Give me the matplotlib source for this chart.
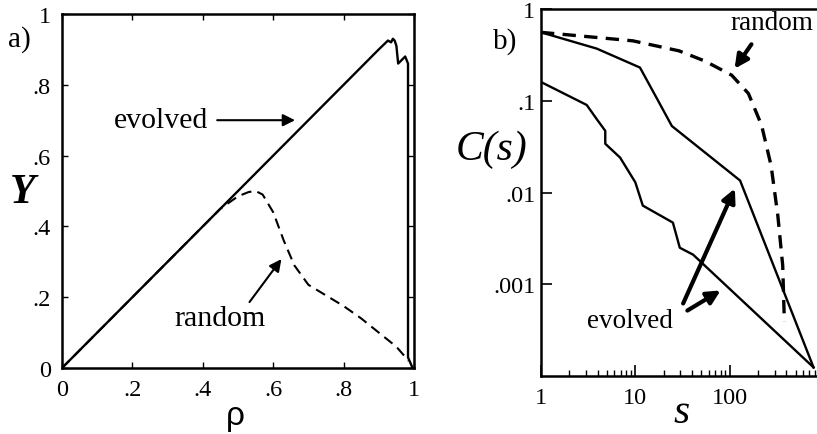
import matplotlib
matplotlib.use("Agg")
import matplotlib.pyplot as plt
import numpy as np

# ---- panel a data ----
rho_evolved = [0.0, 0.50, 0.90, 0.926, 0.935, 0.94, 0.945, 0.95, 0.955, 0.965, 0.975, 0.983, 0.983, 0.996]
Y_evolved   = [0.0, 0.50, 0.90, 0.925, 0.92, 0.93, 0.925, 0.91, 0.86, 0.87, 0.88, 0.86, 0.03, 0.0]
rho_random = [0.0, 0.45, 0.50, 0.53, 0.55, 0.57, 0.60, 0.63, 0.66, 0.70, 0.75, 0.80, 0.85, 0.90, 0.95, 0.985]
Y_random   = [0.0, 0.45, 0.485, 0.497, 0.50, 0.49, 0.44, 0.36, 0.29, 0.235, 0.205, 0.175, 0.14, 0.10, 0.06, 0.02]

# ---- panel b data ----
s_random = [1, 9.4, 29, 55, 105, 158, 218, 275, 324, 365, 380]
C_random = [0.557, 0.45, 0.35, 0.27, 0.19, 0.12, 0.054, 0.0196, 0.0056, 0.0016, 0.00039]
s_evo1 = [1, 3.9, 11.2, 17, 24.4, 129, 775]
C_evo1 = [0.557, 0.37, 0.23, 0.105, 0.053, 0.0135, 0.000124]
s_evo2 = [1, 3.05, 3.9, 4.8, 4.8, 6.9, 10, 12, 25, 29.6, 41, 775]
C_evo2 = [0.16, 0.09, 0.063, 0.047, 0.034, 0.024, 0.0129, 0.0072, 0.0047, 0.0025, 0.0021, 0.000124]

xticks_a = [0, 0.2, 0.4, 0.6, 0.8, 1.0]
xticklabels_a = ['0', '.2', '.4', '.6', '.8', '1']
yticks_b = [1, 0.1, 0.01, 0.001]
yticklabels_b = ['1', '.1', '.01', '.001']
xticks_b = [1, 10, 100]
xticklabels_b = ['1', '10', '100']

plt.rcParams['font.family'] = ['Liberation Serif', 'DejaVu Serif']

W, H = 817, 435
fig = plt.figure(figsize=(W/100, H/100), dpi=100)

def px(l, t, r, b):
    return [l/W, 1 - b/H, (r-l)/W, (b-t)/H]

# ---------- panel a ----------
ax = fig.add_axes(px(62, 15, 414, 369))
ax.plot(rho_evolved, Y_evolved, color='black', lw=1.7)
ax.plot(rho_random, Y_random, color='black', lw=1.5, ls=(0, (5, 3)))
ax.set_xlim(0, 1)
ax.set_ylim(0, 1)
ax.set_xticks(xticks_a)
ax.set_xticklabels(xticklabels_a)
ax.set_yticks(xticks_a)
ax.set_yticklabels(xticklabels_a)
ax.tick_params(direction='in', length=4, width=1, labelsize=17.5, top=True, right=True, pad=8)
for sp in ax.spines.values():
    sp.set_linewidth(1.8)
ax.text(-0.12, 0.93, 'a)', transform=ax.transAxes, fontsize=21, ha='center', va='center')
fig.text(23/W, 1-193/H, 'Y', fontsize=30, fontweight='bold', fontstyle='italic', ha='center', va='center')
fig.text(235/W, 1-417/H, 'ρ', fontsize=24, family='Liberation Sans', ha='center', va='center')
ax.annotate('', xy=(0.67, 0.70), xytext=(0.433, 0.70),
            arrowprops=dict(arrowstyle='-|>', color='black', lw=1.5, mutation_scale=18))
ax.text(0.28, 0.70, 'evolved', fontsize=21.5, ha='center', va='center')
ax.annotate('', xy=(0.628, 0.314), xytext=(0.528, 0.18),
            arrowprops=dict(arrowstyle='-|>', color='black', lw=1.5, mutation_scale=18))
ax.text(0.45, 0.14, 'random', fontsize=21.5, ha='center', va='center')

# ---------- panel b ----------
bx = fig.add_axes(px(541, 10, 824, 377))
bx.set_xscale('log')
bx.set_yscale('log')
bx.plot(s_random, C_random, color='black', lw=2.4, ls=(0, (4, 2.5)))
bx.plot(s_evo1, C_evo1, color='black', lw=1.7)
bx.plot(s_evo2, C_evo2, color='black', lw=1.7)
bx.set_xlim(1, 1000)
bx.set_ylim(1e-4, 1)
bx.set_xticks(xticks_b)
bx.set_xticklabels(xticklabels_b)
bx.set_yticks(yticks_b)
bx.set_yticklabels(yticklabels_b)
bx.yaxis.set_minor_locator(matplotlib.ticker.NullLocator())
bx.tick_params(axis='both', which='major', direction='in', length=8, width=1.2, labelsize=17.5)
bx.tick_params(axis='x', which='major', pad=8)
bx.tick_params(axis='x', which='minor', direction='in', length=4, width=1)
bx.tick_params(axis='y', which='major', pad=4)
for sp in bx.spines.values():
    sp.set_linewidth(1.8)
fig.text(505/W, 1-42/H, 'b)', fontsize=21, ha='center', va='center')
fig.text(492/W, 1-150/H, 'C(s)', fontsize=30, fontstyle='italic', ha='center', va='center')
fig.text(682/W, 1-413/H, 's', fontsize=30, fontstyle='italic', ha='center', va='center')
fig.text(772/W, 1-24/H, 'random', fontsize=19.5, ha='center', va='center')
fig.text(630/W, 1-322/H, 'evolved', fontsize=19.5, ha='center', va='center')
arrow_kw = dict(arrowstyle='-|>', color='black', lw=3, mutation_scale=20)
def fig_arrow(x0, y0, x1, y1):
    fig.add_artist(matplotlib.patches.FancyArrowPatch((x0/W, 1-y0/H), (x1/W, 1-y1/H),
                   transform=fig.transFigure, **arrow_kw))
fig_arrow(753, 43, 733, 72)
fig_arrow(682, 307, 736, 187)
fig_arrow(685, 313, 723, 290)

fig.savefig('out.png', dpi=100)
